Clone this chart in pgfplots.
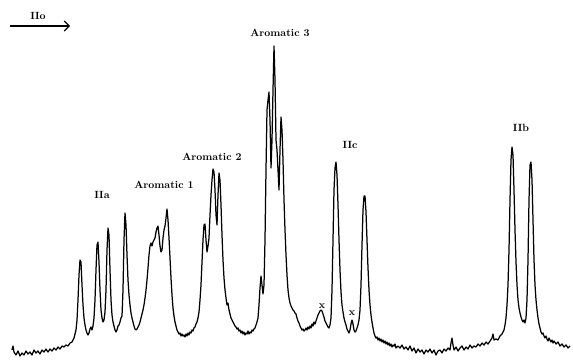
\documentclass[border=0pt]{standalone}
\usepackage{pgfplots}
\pgfplotsset{compat=1.18}
\usetikzlibrary{arrows.meta}
\tikzset{lbl/.style={font=\fontsize{10.5}{12}\selectfont\bfseries, inner sep=0pt}}
\begin{document}
\begin{tikzpicture}
\begin{axis}[
  scale only axis, width=573bp, height=364bp,
  xmin=0, xmax=573, ymin=0, ymax=364, y dir=reverse,
  hide axis, clip=false
]
\addplot[black, line width=1.25pt, line join=round] coordinates {
(12,350)(13,346)(14,352)(16,355)(18,351)(20,356)(22,353)(24,355)(26,351)(28,354)
(30,352)(32,355)(34,350)(36,353)(38,351)(40,354)(42,350)(44,352)(46,349)(48,352)
(50,349)(52,351)(54,348)(56,350)(58,347)(60,349)(62,346)(64,347)(66,345)(68,346)
(70,343)(72,342)(74,338)(76,330)(77,320)(78,300)(79,275)(80,260)(81,262)(82,285)
(83,305)(84,318)(85,325)(86,330)(87,333)(88,335)(89,333)(90,329)(91,327)(92,330)
(93,326)(94,318)(95,300)(96,270)(97,245)(98,242)(99,262)(100,290)(101,310)(102,318)
(103,322)(104,320)(105,312)(106,290)(107,250)(108,228)(109,235)(110,270)(111,300)
(112,315)(113,322)(114,326)(115,330)(116,332)(117,330)(118,326)(119,325)(120,322)
(121,318)(122,316)(123,290)(124,240)(125,213)(126,225)(127,255)(128,280)(129,295)
(130,305)(131,313)(132,318)(133,322)(134,326)(135,329)(136,330)(137,329)(138,327)
(139,325)(140,322)(141,318)(142,314)(143,310)(144,305)(145,298)(146,290)(147,280)
(148,268)(149,255)(150,246)(151,243)(152,246)(153,242)(154,240)(155,238)(156,232)
(157,228)(158,226)(159,235)(160,246)(161,252)(162,250)(163,238)(164,230)(165,226)
(166,218)(167,209)(168,220)(169,238)(170,258)(171,278)(172,295)(173,308)(174,316)
(175,322)(176,326)(177,330)(178,332)(179,334)(180,333)(181,336)(182,334)(183,336)
(184,335)(185,337)(186,334)(187,336)(188,333)(189,335)(190,332)(191,333)(192,330)
(193,331)(194,328)(195,327)(196,324)(197,322)(198,318)(199,312)(200,300)(201,285)
(202,262)(203,240)(204,225)(205,224)(206,240)(207,252)(208,246)(209,238)(210,215)
(211,195)(212,180)(213,169)(214,172)(215,190)(216,215)(217,225)(218,195)(219,173)
(220,180)(221,205)(222,235)(223,260)(224,278)(225,290)(226,298)(227,305)(228,303)
(229,310)(230,314)(231,318)(232,320)(233,322)(234,324)(235,326)(236,327)(237,329)
(238,328)(239,331)(240,330)(241,333)(242,331)(243,334)(244,332)(245,335)(246,333)
(247,334)(248,331)(249,334)(250,332)(251,333)(252,330)(253,331)(254,329)(255,328)
(256,325)(257,322)(258,318)(259,305)(260,288)(261,276)(262,285)(263,294)(264,285)
(265,240)(266,170)(267,110)(268,100)(269,92)(270,120)(271,168)(272,140)(273,90)
(274,46)(275,80)(276,140)(277,150)(278,170)(279,190)(280,150)(281,117)(282,130)
(283,160)(284,200)(285,230)(286,255)(287,275)(288,290)(289,298)(290,303)(291,306)
(292,308)(293,310)(294,311)(295,313)(296,314)(297,318)(298,321)(299,323)(300,326)
(301,328)(302,330)(303,329)(304,331)(305,330)(306,328)(307,330)(308,327)(309,329)
(310,326)(311,328)(312,324)(313,326)(314,322)(315,324)(316,321)(317,318)(318,315)
(319,313)(320,311)(321,310)(322,311)(323,314)(324,317)(325,321)(326,323)(327,325)
(328,327)(329,328)(330,325)(331,318)(332,290)(333,240)(334,190)(335,168)(336,162)
(337,175)(338,205)(339,240)(340,270)(341,292)(342,305)(343,312)(344,318)(345,322)
(346,325)(347,329)(348,331)(349,333)(350,330)(351,324)(352,320)(353,324)(354,330)
(355,332)(356,331)(357,328)(358,325)(359,320)(360,310)(361,285)(362,245)(363,210)
(364,196)(365,196)(366,212)(367,240)(368,268)(369,290)(370,305)(371,315)(372,322)
(373,328)(374,333)(375,336)(376,338)(377,337)(378,340)(379,338)(380,341)(381,339)
(382,342)(383,340)(384,343)(385,341)(386,344)(387,342)(388,345)(389,343)(390,346)
(391,344)(392,347)(393,345)(394,346)(395,344)(396,348)(398,346)(400,348)(402,345)
(404,349)(406,347)(408,350)(410,346)(412,351)(414,348)(416,353)(418,349)(420,352)
(422,350)(424,354)(426,350)(428,352)(430,349)(432,353)(434,350)(436,355)(438,351)
(440,350)(442,353)(444,349)(446,351)(448,348)(450,350)(451,343)(452,338)(453,345)
(454,350)(456,347)(458,351)(460,348)(462,346)(464,350)(466,347)(468,349)(470,345)
(472,348)(474,346)(476,347)(478,344)(480,346)(482,343)(484,345)(486,342)(488,344)
(490,341)(492,338)(493,334)(494,340)(496,339)(498,340)(500,336)(502,334)(504,330)
(505,325)(506,318)(507,305)(508,285)(509,250)(510,200)(511,160)(512,147)(513,155)
(514,190)(515,230)(516,262)(517,285)(518,300)(519,308)(520,313)(521,317)(522,320)
(523,322)(524,320)(525,323)(526,318)(527,300)(528,260)(529,200)(530,165)(531,162)
(532,180)(533,220)(534,260)(535,285)(536,300)(537,310)(538,318)(539,324)(540,328)
(541,332)(542,334)(543,333)(544,336)(545,338)(546,336)(547,339)(548,341)(549,338)
(550,340)(551,342)(552,340)(553,343)(554,341)(556,344)(558,342)(560,346)(562,344)
(564,347)(566,345)(568,348)(570,346)
};
\path (rel axis cs:0,0) rectangle (rel axis cs:1,1);
\draw[-{Straight Barb[length=5pt, width=10pt, line width=1.2pt]}, line width=1.2pt] (axis cs:10,26) -- (axis cs:70,26);
\node[lbl] at (axis cs:38,16) {IIo};
\node[lbl] at (axis cs:102,195) {IIa};
\node[lbl] at (axis cs:164,185) {Aromatic 1};
\node[lbl] at (axis cs:212,157) {Aromatic 2};
\node[lbl] at (axis cs:280,33) {Aromatic 3};
\node[lbl] at (axis cs:350,145) {IIc};
\node[lbl] at (axis cs:521,128) {IIb};
\node[lbl] at (axis cs:322,306) {x};
\node[lbl] at (axis cs:352,313) {x};
\end{axis}
\end{tikzpicture}
\end{document}
